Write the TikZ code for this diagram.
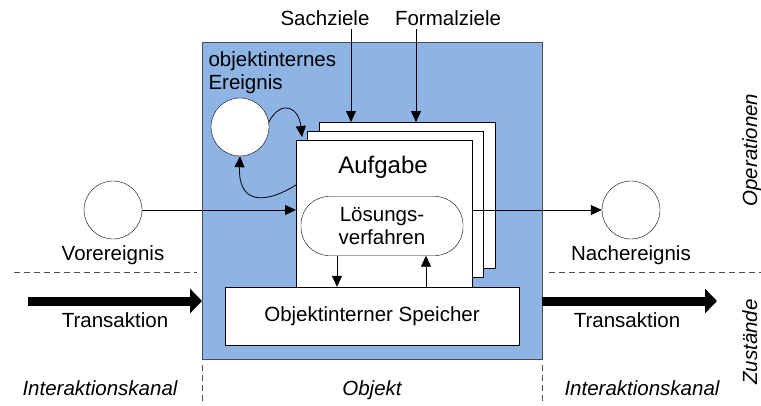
\documentclass[tikz,border=0pt]{standalone}
\usepackage{fontspec}
\setmainfont{Liberation Sans}
\usetikzlibrary{arrows.meta}
\definecolor{objektblau}{RGB}{141,180,227}

\begin{document}
\begin{tikzpicture}[x=1pt,y=-1pt,font=\fontsize{20.5}{23}\selectfont]
    \tikzset{pfeil/.style={-{Triangle[length=11pt,width=10pt]},line width=0.8pt},
      dick/.style={-{Triangle[length=12pt,width=24pt]},line width=9pt},
      blatt/.style={draw,fill=white,anchor=north west,inner sep=0pt,minimum width=176pt},
      ereignis/.style={draw,fill=white,circle,minimum size=58pt,inner sep=0pt},
      trenn/.style={draw=black!70,dash pattern=on 6pt off 4pt,line width=0.8pt},
      kursiv/.style={font=\fontsize{20.5}{23}\selectfont\itshape}}
\useasboundingbox (0,0) rectangle (761,405);
\node[draw=black!70,fill=objektblau,anchor=north west,inner sep=0pt,
  minimum width=340pt,minimum height=317pt] (objekt) at (202,42) {};
 \draw[trenn] (14,272) -- (197,272);
 \draw[trenn] (549,272) -- (761,272);
 \draw[trenn] ([yshift=-6pt]objekt.south west) -- ++(0,40);
 \draw[trenn] ([yshift=-6pt]objekt.south east) -- ++(0,40);
% Aufgabe mit Blaettern
\node[blatt,minimum height=146pt] (blatt3) at (319,122) {};
\node[blatt,minimum height=146pt] (blatt2) at (307,131) {};
\node[blatt,minimum height=160pt] (blatt1) at (296,140) {};
\node[anchor=base,font=\fontsize{24}{28}\selectfont] (aufgabe) at (383,173) {Aufgabe};
\node[draw,fill=white,rounded corners=28pt,minimum width=162pt,minimum height=59pt,
  align=center] (loesung) at (382,226) {Lösungs-\\verfahren};
\node[draw,fill=white,minimum width=294pt,minimum height=58pt] (speicher) at (372,316) {Objektinterner Speicher};
 \draw[pfeil] ([xshift=-45pt]loesung.south) -- ([xshift=-45pt]loesung.south |- speicher.north);
 \draw[pfeil] ([xshift=44pt]loesung.south |- speicher.north) -- ([xshift=44pt]loesung.south);
% Ziele
\node[anchor=base] (sach) at (325,25) {Sachziele};
\node[anchor=base] (formal) at (448,25) {Formalziele};
 \draw[pfeil] ([xshift=26pt]sach.south) -- ([xshift=26pt]sach.south |- blatt3.north);
 \draw[pfeil] ([xshift=-32pt]formal.south) -- ([xshift=-32pt]formal.south |- blatt3.north);
% Ereignisse
\node[ereignis] (intEr) at (240,127) {};
\node[anchor=base west,align=left] (intErText) at (205,89) {objektinternes\\Ereignis};
 \draw[pfeil] (intEr.10)..controls (282,98) and (299,108) .. ([xshift=6pt,yshift=3pt]blatt1.north west);
 \draw[pfeil] ([yshift=-45pt]blatt1.north west)..controls (262,206) and (238,202) .. (intEr.south);
\node[ereignis] (vorEr) at (113,210) {};
\node[anchor=base] (vorErText) at (113,260) {Vorereignis};
\node[ereignis] (nachEr) at (631,210) {};
\node[anchor=base] (nachErText) at (631,260) {Nachereignis};
 \draw[pfeil] (vorEr.east) -- (vorEr -| blatt1.west);
 \draw[pfeil] (blatt1.east |- nachEr) -- (nachEr.west);
% Transaktionen
\coordinate (transLinks) at (28,301);
\coordinate (transRechts) at (717,301);
 \draw[dick] (transLinks) -- (transLinks -| objekt.west);
 \draw[dick] (transRechts -| objekt.east) -- (transRechts);
\node[anchor=base] (transLinksText) at (115,327) {Transaktion};
\node[anchor=base] (transRechtsText) at (627,327) {Transaktion};
% Beschriftung
\node[kursiv,anchor=base] (kanalLinks) at (100,395) {Interaktionskanal};
\node[kursiv,anchor=base] (objektText) at (372,395) {Objekt};
\node[kursiv,anchor=base] (kanalRechts) at (642,395) {Interaktionskanal};
\node[kursiv,rotate=90,anchor=base,inner sep=0pt] (operationen) at (757,150) {Operationen};
\node[kursiv,rotate=90,anchor=base,inner sep=0pt] (zustaende) at (757,342) {Zustände};
\end{tikzpicture}
\end{document}
